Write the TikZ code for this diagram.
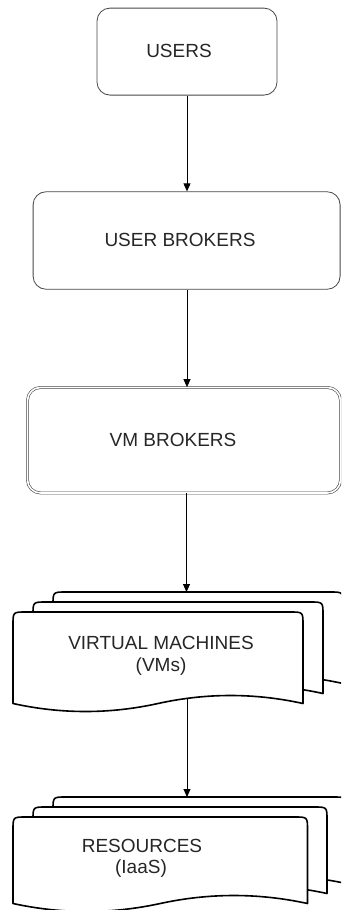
\documentclass[tikz,border=0pt]{standalone}
\usepackage{fontspec}
\setmainfont{Liberation Sans}
\usetikzlibrary{arrows.meta}
\newcommand\docshape[4]{%
  \path[doc] (#1,#4) -- (#1,{#2+13}) .. controls (#1,#2) .. ({#1+13},#2)
    -- ({#3-13},#2) .. controls (#3,#2) .. (#3,{#2+13}) -- (#3,#4)
    .. controls ({#3-(#3-#1)/6},{#4-32/3}) and ({(#1+#3)/2+(#3-#1)/6},{#4-32/3}) .. ({(#1+#3)/2},#4)
    .. controls ({(#1+#3)/2-(#3-#1)/6},{#4+32/3}) and ({#1+(#3-#1)/6},{#4+32/3}) .. (#1,#4) -- cycle;}
\begin{document}
\begin{tikzpicture}[x=1pt,y=-1pt,
  box/.style={draw=black!72, line width=0.8pt, rounded corners=13pt, inner sep=0pt, fill=white},
  lbl/.style={font=\fontsize{19}{22}\selectfont, text=black!85, inner sep=0pt, anchor=base},
  conn/.style={draw=black, line width=0.9pt, -{Triangle[length=8pt,width=7pt]}},
  doc/.style={draw=black, line width=1.6pt, fill=white, line join=round}]
\useasboundingbox (0,0) rectangle (341,910);
\clip (0,0) rectangle (341,910);
\fill[white] (0,0) rectangle (341,910);
% boxes
\node[box, minimum width=180pt, minimum height=87pt] (users) at (187,51.6) {};
\node[box, minimum width=307pt, minimum height=97.5pt] (ub) at (186.6,240.5) {};
\node[box, double, double distance=1.6pt, line width=0.6pt, minimum width=313pt, minimum height=105.5pt] (vmb) at (184,440.2) {};
% virtual machines stack
\docshape{53}{592}{343}{683.5}
\docshape{33}{602}{323}{693.5}
\docshape{13}{612}{303}{703.5}
% resources stack
\docshape{53}{797}{346}{883.5}
\docshape{33}{807}{327}{893.5}
\docshape{13}{817}{307.5}{903.5}
\coordinate (vmtop) at (186.5,592);
\coordinate (vmbot) at (187,698.4);
\coordinate (restop) at (187,797);
% labels
\node[lbl] (tusers) at (179,57.5) {USERS};
\node[lbl] (tub) at (180,246.7) {USER BROKERS};
\node[lbl] (tvmb) at (173,446.7) {VM BROKERS};
\node[lbl] (tvm1) at (161,649.3) {VIRTUAL MACHINES};
\node[lbl] (tvm2) at (161,671) {(VMs)};
\node[lbl] (tres1) at (142,852.5) {RESOURCES};
\node[lbl] (tres2) at (141,873) {(IaaS)};
% connectors
\draw[conn] (users.south) -- (users.south |- ub.north);
\draw[conn] (users.south |- ub.south) -- (users.south |- vmb.north);
\draw[conn] (vmtop |- vmb.south) -- (vmtop);
\draw[conn] (vmbot) -- (restop);
\end{tikzpicture}
\end{document}
